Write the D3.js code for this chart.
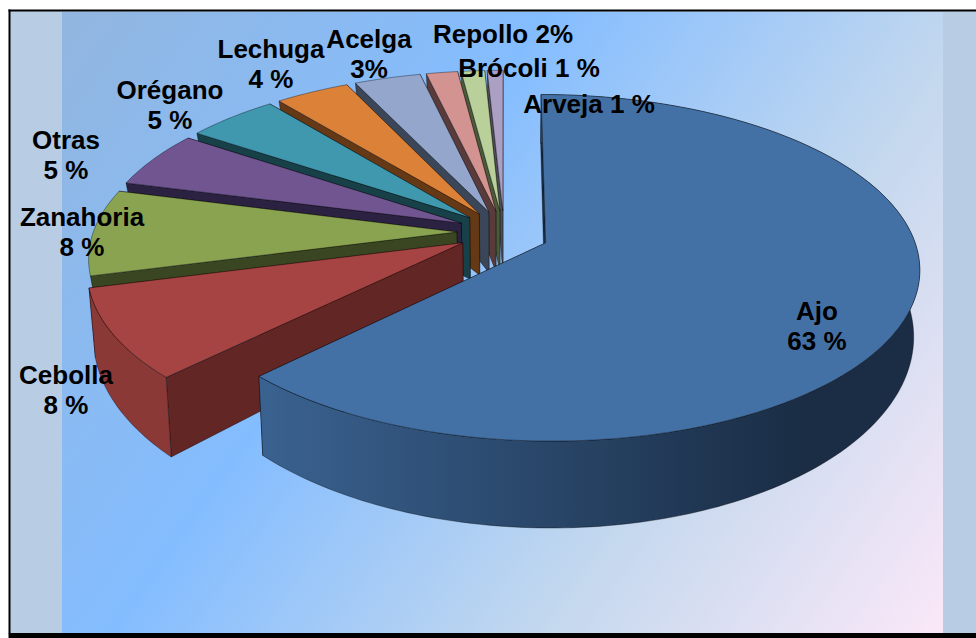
<!DOCTYPE html>
<html>
<head>
<meta charset="utf-8">
<script src="https://d3js.org/d3.v7.min.js"></script>
<style>
  html, body { margin: 0; padding: 0; background: #fff; }
  svg { display: block; }
  text { font-family: "Liberation Sans", Arial, sans-serif; font-weight: bold; fill: #000; }
</style>
</head>
<body>
<div id="chart"></div>
<script>
var categories = ["Ajo", "Cebolla", "Zanahoria", "Otras", "Orégano", "Lechuga", "Acelga", "Repollo", "Brócoli", "Arveja"];
var shares = [62.5, 8.4, 8.2, 5.4, 4.7, 3.8, 3.4, 1.6, 1.2, 0.8];
var shareLabels = ["63 %", "8 %", "8 %", "5 %", "5 %", "4 %", "3%", "2%", "1 %", "1 %"];

var topColors = ["#4471a5", "#a54442", "#8aa350", "#705590", "#4098ae", "#dc8238", "#94a6cb", "#d29391", "#bad09a", "#ac9fc4"];
var sideColors = ["#1a2d45", "#622625", "#3a4522", "#2b2140", "#174048", "#653816", "#3b4658", "#5a3b3b", "#4c5a3a", "#4e4c55"];

// centre of each label, by hand. oneLine ones hold name and share together
var labelSpots = [
    {x: 817, y: 311}, {x: 66, y: 375}, {x: 82, y: 217}, {x: 66, y: 140}, {x: 170, y: 90},
    {x: 271, y: 49}, {x: 369, y: 39}, {x: 503, y: 34, oneLine: true}, {x: 529, y: 68, oneLine: true}, {x: 589, y: 104, oneLine: true}
];

var width = 976, height = 638;

var svg = d3.select("#chart")
    .append("svg")
    .attr("width", width)
    .attr("height", height);

var defs = svg.append("defs");

var bg = defs.append("linearGradient")
    .attr("id", "panelFill")
    .attr("gradientUnits", "userSpaceOnUse")
    .attr("x1", 62).attr("y1", 12).attr("x2", 943).attr("y2", 632);
bg.append("stop").attr("offset", 0).attr("stop-color", "#92b6df");
bg.append("stop").attr("offset", 0.37).attr("stop-color", "#84bdff");
bg.append("stop").attr("offset", 0.7).attr("stop-color", "#c4d8ee");
bg.append("stop").attr("offset", 1).attr("stop-color", "#fae8f8");

var ajoWall = defs.append("linearGradient")
    .attr("id", "ajoWall")
    .attr("gradientUnits", "userSpaceOnUse")
    .attr("x1", 260).attr("y1", 0).attr("x2", 800).attr("y2", 0);
ajoWall.append("stop").attr("offset", 0).attr("stop-color", "#3a6290");
ajoWall.append("stop").attr("offset", 1).attr("stop-color", "#1a2d45");

// frame and panel
svg.append("rect").attr("x", 10).attr("y", 11).attr("width", 966).attr("height", 622).attr("fill", "#b8cce4");
svg.append("rect").attr("x", 62).attr("y", 12).attr("width", 881).attr("height", 621).attr("fill", "url(#panelFill)");
svg.append("rect").attr("x", 8.5).attr("y", 9.5).attr("width", 968).attr("height", 2).attr("fill", "#000");
svg.append("rect").attr("x", 8.5).attr("y", 9.5).attr("width", 2).attr("height", 624).attr("fill", "#000");
svg.append("rect").attr("x", 8.5).attr("y", 633).attr("width", 968).attr("height", 5).attr("fill", "#000");

// perspective of the disc. u runs right, v runs to the viewer
var persp = 0.1445;
var depth = 63;
var xScale = d3.scaleLinear().domain([0, 1]).range([509, 880]);
var yScale = d3.scaleLinear().domain([0, 1]).range([234, 403.4]);

var project = function (u, v, lower, shift, sink) {
    var s = 1 / (1 - persp * v);
    if (lower) {
        return [xScale(u * s * 0.985) + shift[0], yScale(v * s) + depth * s * s * sink + shift[1]];
    }
    return [xScale(u * s) + shift[0], yScale(v * s) + shift[1]];
};

var ajoExplode = 0.105, restExplode = 0.127;
var ajoRadius = 0.99, restRadius = 0.98;
var ajoShift = [0.5, 2], restShift = [-5, -2];

var pie = d3.pie().sort(null).value(function (d) { return d; });
var arcs = pie(shares);

var slices = arcs.map(function (a, i) {
    var mid = (a.startAngle + a.endAngle) / 2;
    var e = i === 0 ? ajoExplode : restExplode;
    return {
        index: i,
        start: a.startAngle,
        end: a.endAngle,
        u0: e * Math.sin(mid),
        v0: -e * Math.cos(mid),
        radius: i < 2 ? ajoRadius : restRadius,
        shift: i === 0 ? ajoShift : restShift,
        // only Ajo and Cebolla show their outer wall
        front: i < 2
    };
});

var rimAngles = function (d) {
    var n = Math.max(2, Math.ceil((d.end - d.start) / 0.02));
    return d3.range(n + 1).map(function (k) { return d.start + (d.end - d.start) * k / n; });
};

var rimPoint = function (d, a, lower, sink) {
    return project(d.u0 + d.radius * Math.sin(a), d.v0 - d.radius * Math.cos(a), lower, d.shift, sink === undefined ? 1 : sink);
};

var linePath = d3.line();

var g = svg.append("g");

// back slices first, Ajo goes last so it lies over the others
var order = slices.slice(1).reverse().concat([slices[0]]);

var faceStroke = "rgba(0,0,0,0.45)";

order.forEach(function (d) {
    var apexTop = project(d.u0, d.v0, false, d.shift, 1);
    var apexLow = project(d.u0, d.v0, true, d.shift, 1);
    var angles = rimAngles(d);
    var rimSink = d.front ? 1 : 0.5;

    // end side, then start side
    [d.end, d.start].forEach(function (a) {
        g.append("path")
            .attr("d", linePath([apexTop, rimPoint(d, a, false), rimPoint(d, a, true, rimSink), apexLow]) + "Z")
            .attr("fill", sideColors[d.index])
            .attr("stroke", faceStroke)
            .attr("stroke-width", 0.8);
    });

    // outer wall
    if (d.front) {
        var wall = angles.map(function (a) { return rimPoint(d, a, false); })
            .concat(angles.slice().reverse().map(function (a) { return rimPoint(d, a, true); }));
        var wallFill = d.index === 0 ? "url(#ajoWall)" : d3.rgb(topColors[d.index]).darker(0.5);
        g.append("path")
            .attr("d", linePath(wall) + "Z")
            .attr("fill", wallFill)
            .attr("stroke", faceStroke)
            .attr("stroke-width", 0.8);
    }

    // top
    var top = [apexTop].concat(angles.map(function (a) { return rimPoint(d, a, false); }));
    g.append("path")
        .attr("d", linePath(top) + "Z")
        .attr("fill", topColors[d.index])
        .attr("stroke", faceStroke)
        .attr("stroke-width", 0.8);
});

// labels
var labels = svg.append("g")
    .attr("font-size", 26)
    .attr("text-anchor", "middle");

categories.forEach(function (name, i) {
    var spot = labelSpots[i];
    if (spot.oneLine) {
        labels.append("text")
            .attr("x", spot.x).attr("y", spot.y)
            .attr("dominant-baseline", "central")
            .text(name + " " + shareLabels[i]);
    } else {
        labels.append("text")
            .attr("x", spot.x).attr("y", spot.y)
            .attr("dominant-baseline", "central")
            .text(name);
        labels.append("text")
            .attr("x", spot.x).attr("y", spot.y + 30)
            .attr("dominant-baseline", "central")
            .text(shareLabels[i]);
    }
});
</script>
</body>
</html>
